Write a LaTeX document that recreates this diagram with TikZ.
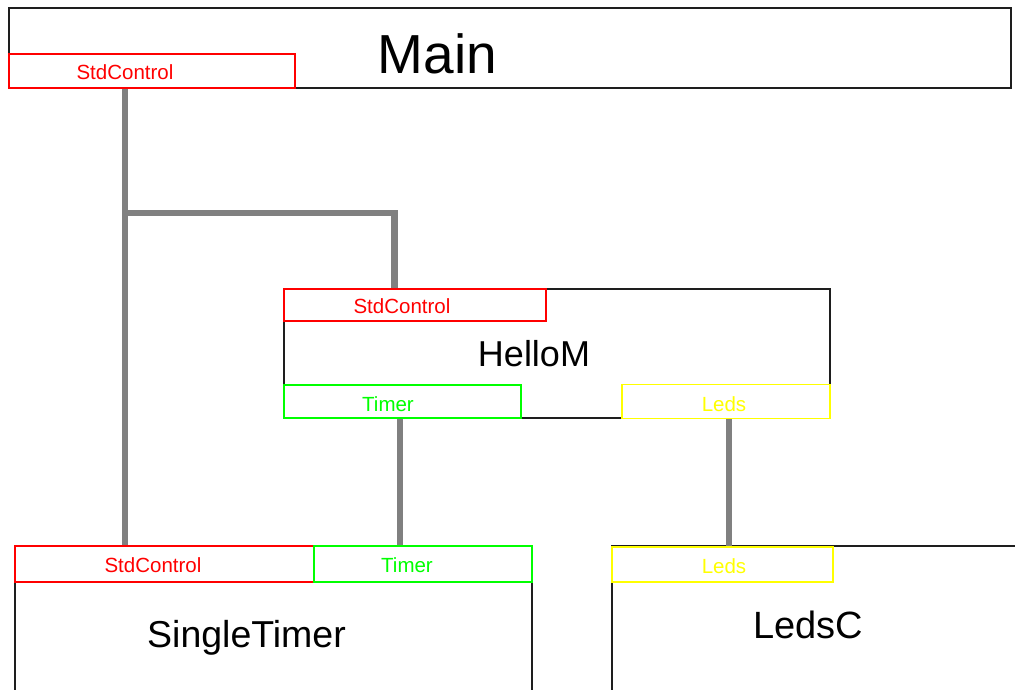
\documentclass[tikz,border=0pt]{standalone}
\usepackage{fontspec}
\setmainfont{Liberation Sans}
\usetikzlibrary{calc}
\definecolor{pred}{RGB}{255,0,0}
\definecolor{pgreen}{RGB}{0,255,0}
\definecolor{pyellow}{RGB}{255,255,0}
\definecolor{wiregray}{RGB}{128,128,128}
\definecolor{boxline}{RGB}{30,30,30}
\begin{document}
\begin{tikzpicture}[x=1pt,y=-1pt,
  comp/.style={draw=boxline,line width=1.6pt,fill=white},
  port/.style={draw=#1,line width=1.6pt,fill=white,rectangle,inner sep=0pt,outer sep=0pt},
  plabel/.style={text=#1,font=\fontsize{20.5}{20.5}\selectfont,anchor=base,inner sep=0pt},
  bigname/.style={font=\fontsize{#1}{#1}\selectfont,anchor=base,inner sep=0pt},
  wire/.style={draw=wiregray,line width=6.5pt}]
\useasboundingbox (0,0) rectangle (1015,689);
\fill[white] (0,0) rectangle (1015,689);
\begin{scope}
\clip (0,0) rectangle (1015,689);
% component boxes
\draw[comp] (9,8) rectangle (1011,88);
\draw[comp] (284,289) rectangle (830,418);
\draw[comp] (15,546) -- (15,700) (15,546) -- (532,546) -- (532,700);
\draw[comp] (612,700) -- (612,546) -- (1030,546);
% wires (junction coordinates)
\coordinate (j1) at (125,213);
\coordinate (j2) at (394.5,213);
\coordinate (jt) at (400,0);
\coordinate (jl) at (729,0);
% ports
\node[port=pred,minimum width=286pt,minimum height=34pt] (mainSC) at (152,71) {};
\node[port=pred,minimum width=262pt,minimum height=32pt] (hmSC) at (415,305) {};
\node[port=pgreen,minimum width=237pt,minimum height=33pt] (hmT) at (402.5,401.5) {};
\node[port=pyellow,minimum width=208pt,minimum height=34pt] (hmL) at (726,401.5) {};
\node[port=pred,minimum width=299pt,minimum height=36pt] (stSC) at (164.5,564) {};
\node[port=pgreen,minimum width=218pt,minimum height=36pt] (stT) at (423,564) {};
\node[port=pyellow,minimum width=221pt,minimum height=35pt] (lcL) at (722.5,564.5) {};
% connectors
\path[wire] (mainSC.south -| j1) -- (stSC.north -| j1);
\path[wire] (j1) -- (j2) -- (hmSC.north -| j2);
\path[wire] (hmT.south -| jt) -- (stT.north -| jt);
\path[wire] (hmL.south -| jl) -- (lcL.north -| jl);
% redraw port borders above wire ends
\node[port=pred,minimum width=286pt,minimum height=34pt,fill=none] at (mainSC) {};
\node[port=pred,minimum width=262pt,minimum height=32pt,fill=none] at (hmSC) {};
\node[port=pgreen,minimum width=237pt,minimum height=33pt,fill=none] at (hmT) {};
\node[port=pyellow,minimum width=208pt,minimum height=34pt,fill=none] at (hmL) {};
\node[port=pred,minimum width=299pt,minimum height=36pt,fill=none] at (stSC) {};
\node[port=pgreen,minimum width=218pt,minimum height=36pt,fill=none] at (stT) {};
\node[port=pyellow,minimum width=221pt,minimum height=35pt,fill=none] at (lcL) {};
% port labels
\node[plabel=pred] (tMainSC) at (125,79) {StdControl};
\node[plabel=pred] (tHmSC) at (402,313) {StdControl};
\node[plabel=pgreen] (tHmT) at (388,411) {Timer};
\node[plabel=pyellow] (tHmL) at (724,411) {Leds};
\node[plabel=pred] (tStSC) at (153,572) {StdControl};
\node[plabel=pgreen] (tStT) at (407,572) {Timer};
\node[plabel=pyellow] (tLcL) at (724,573) {Leds};
% component names
\node[bigname=55] (nMain) at (437.5,73) {Main};
\node[bigname=36] (nHello) at (534,366) {HelloM};
\node[bigname=37.5] (nSingle) at (246.5,647) {SingleTimer};
\node[bigname=38] (nLeds) at (808,638) {LedsC};
\end{scope}
\end{tikzpicture}
\end{document}
